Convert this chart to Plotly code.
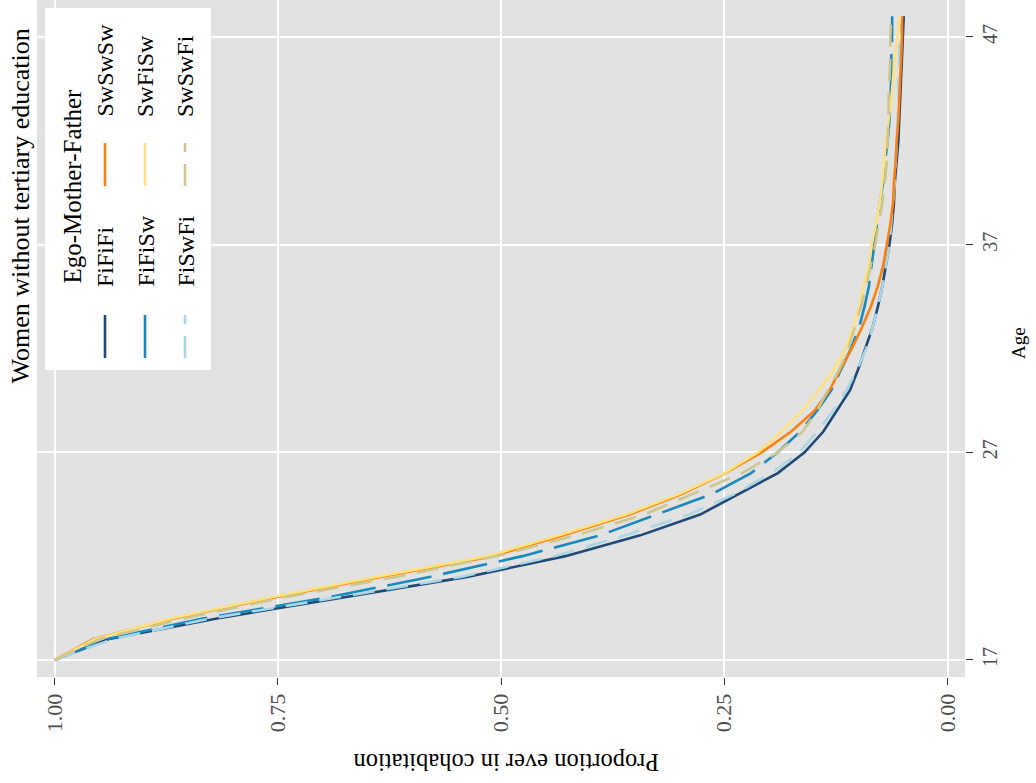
import plotly.graph_objects as go

# ---------------- data ----------------
ages = [17, 18, 19, 20, 21, 22, 23, 24, 25, 26, 27, 28, 29, 30, 31, 32,
        33, 34, 35, 36, 37, 38, 39, 40, 41, 42, 43, 44, 45, 46, 47, 48]

fifiFi = [1.000, 0.940, 0.818, 0.677, 0.538, 0.428, 0.344, 0.277, 0.233, 0.190, 0.160, 0.139,
          0.124, 0.109, 0.100, 0.092, 0.084, 0.078, 0.073, 0.069, 0.065, 0.062, 0.060, 0.059,
          0.057, 0.055, 0.054, 0.053, 0.052, 0.051, 0.050, 0.049]
fifiSw = [1.000, 0.942, 0.834, 0.695, 0.580, 0.476, 0.389, 0.325, 0.263, 0.220, 0.190, 0.165,
          0.146, 0.130, 0.119, 0.108, 0.099, 0.093, 0.088, 0.085, 0.082, 0.079, 0.076, 0.072,
          0.070, 0.067, 0.065, 0.064, 0.063, 0.063, 0.062, 0.062]
fiswFi = [1.000, 0.935, 0.825, 0.685, 0.545, 0.440, 0.361, 0.290, 0.238, 0.197, 0.166, 0.146,
          0.128, 0.113, 0.101, 0.091, 0.084, 0.078, 0.073, 0.069, 0.065, 0.063, 0.061, 0.059,
          0.058, 0.057, 0.056, 0.055, 0.055, 0.054, 0.054, 0.053]
swswSw = [1.000, 0.957, 0.867, 0.755, 0.635, 0.509, 0.430, 0.356, 0.297, 0.249, 0.208, 0.175,
          0.149, 0.132, 0.120, 0.107, 0.096, 0.086, 0.078, 0.072, 0.068, 0.064, 0.061, 0.060,
          0.058, 0.057, 0.055, 0.054, 0.053, 0.052, 0.051, 0.051]
swfiSw = [1.000, 0.955, 0.870, 0.760, 0.640, 0.515, 0.435, 0.360, 0.300, 0.250, 0.212, 0.186,
          0.163, 0.144, 0.127, 0.114, 0.106, 0.099, 0.094, 0.088, 0.085, 0.080, 0.076, 0.073,
          0.071, 0.069, 0.066, 0.063, 0.061, 0.059, 0.056, 0.053]
swswFi = [1.000, 0.950, 0.855, 0.745, 0.617, 0.505, 0.416, 0.340, 0.285, 0.230, 0.190, 0.162,
          0.146, 0.134, 0.121, 0.111, 0.104, 0.097, 0.091, 0.086, 0.081, 0.077, 0.073, 0.070,
          0.068, 0.067, 0.066, 0.066, 0.065, 0.064, 0.064, 0.063]

series_names = ["FiFiFi", "FiFiSw", "FiSwFi", "SwSwSw", "SwFiSw", "SwSwFi"]
series_values = [fifiFi, fifiSw, fiswFi, swswSw, swfiSw, swswFi]
series_colors = ["#1d4a78", "#1689bf", "#a9d7e8", "#ff7f0e", "#ffe17f", "#cfc68c"]
series_dash = ["solid", "45px,12px", "22px,12px", "solid", "solid", "22px,12px"]

x_ticks = [1.0, 0.75, 0.5, 0.25, 0.0]
x_ticktext = ["1.00", "0.75", "0.50", "0.25", "0.00"]
y_ticks = [17, 27, 37, 47]

title_text = "Women without tertiary education"
x_title = "Proportion ever in cohabitation"
y_title = "Age"
legend_title = "Ego-Mother-Father"

# ---------------- layout geometry (pixels) ----------------
W, H = 1036, 783
ML, MR, MT, MB = 37, 71, 0, 106
PW, PH = W - ML - MR, H - MT - MB
FONT = "Liberation Serif"


def px(X):
    return (X - ML) / PW


def py(Y):
    return (H - MB - Y) / PH


fig = go.Figure()
for name, vals, col, dash in zip(series_names, series_values, series_colors, series_dash):
    fig.add_trace(go.Scatter(x=vals, y=ages, mode="lines", name=name,
                             line=dict(color=col, width=2.6, dash=dash),
                             showlegend=False, hoverinfo="skip"))

shapes = []
annotations = []

# legend box
shapes.append(dict(type="rect", xref="paper", yref="paper", x0=px(45), x1=px(211),
                   y0=py(370), y1=py(8), fillcolor="white", line=dict(width=0),
                   layer="above"))
annotations.append(dict(text=legend_title, xref="paper", yref="paper", x=px(72), y=py(286),
                        xanchor="center", yanchor="bottom", textangle=-90, showarrow=False,
                        font=dict(family=FONT, size=25, color="black")))
rows_x = [105, 145, 185]
for i, (name, col, dash) in enumerate(zip(series_names, series_colors, series_dash)):
    colidx = i // 3
    rx = rows_x[i % 3]
    key_y0, key_y1 = (358, 315) if colidx == 0 else (186, 143)
    lab_bottom = 289 if colidx == 0 else 119
    shapes.append(dict(type="line", xref="paper", yref="paper", x0=px(rx), x1=px(rx),
                       y0=py(key_y0), y1=py(key_y1), layer="above",
                       line=dict(color=col, width=2.6, dash=dash)))
    annotations.append(dict(text=name, xref="paper", yref="paper", x=px(rx), y=py(lab_bottom),
                            xanchor="center", yanchor="bottom", textangle=-90, showarrow=False,
                            font=dict(family=FONT, size=24, color="black")))

# titles
annotations.append(dict(text=title_text, xref="paper", yref="paper", x=px(20), y=py(386),
                        xanchor="center", yanchor="bottom", textangle=-90, showarrow=False,
                        font=dict(family=FONT, size=26, color="black")))
annotations.append(dict(text=x_title, xref="paper", yref="paper", x=px(506), y=py(763),
                        xanchor="center", yanchor="middle", textangle=180, showarrow=False,
                        font=dict(family=FONT, size=24.5, color="black")))
annotations.append(dict(text=y_title, xref="paper", yref="paper", x=px(1018), y=py(343),
                        xanchor="center", yanchor="middle", textangle=-90, showarrow=False,
                        font=dict(family=FONT, size=19, color="black")))

fig.update_layout(
    width=W, height=H,
    margin=dict(l=ML, r=MR, t=MT, b=MB, pad=0),
    paper_bgcolor="white", plot_bgcolor="#e2e2e2",
    shapes=shapes, annotations=annotations,
    xaxis=dict(range=[1.0196, -0.0196], tickvals=x_ticks, ticktext=x_ticktext,
               tickangle=-90, showgrid=True, gridcolor="white", gridwidth=1.6,
               zeroline=False, ticks="outside", ticklen=7, tickwidth=1.2, tickcolor="#333333",
               tickfont=dict(family=FONT, size=22, color="#4d4d4d"), showline=False),
    yaxis=dict(range=[16.18, 48.78], tickvals=y_ticks, side="right", tickangle=-90,
               showgrid=True, gridcolor="white", gridwidth=1.6, zeroline=False,
               ticks="outside", ticklen=7, tickwidth=1.2, tickcolor="#333333",
               tickfont=dict(family=FONT, size=20, color="#4d4d4d"), showline=False),
    showlegend=False,
)

fig.write_html("out.html", config={"displayModeBar": False},
               post_script="document.body.style.margin='0px';")
